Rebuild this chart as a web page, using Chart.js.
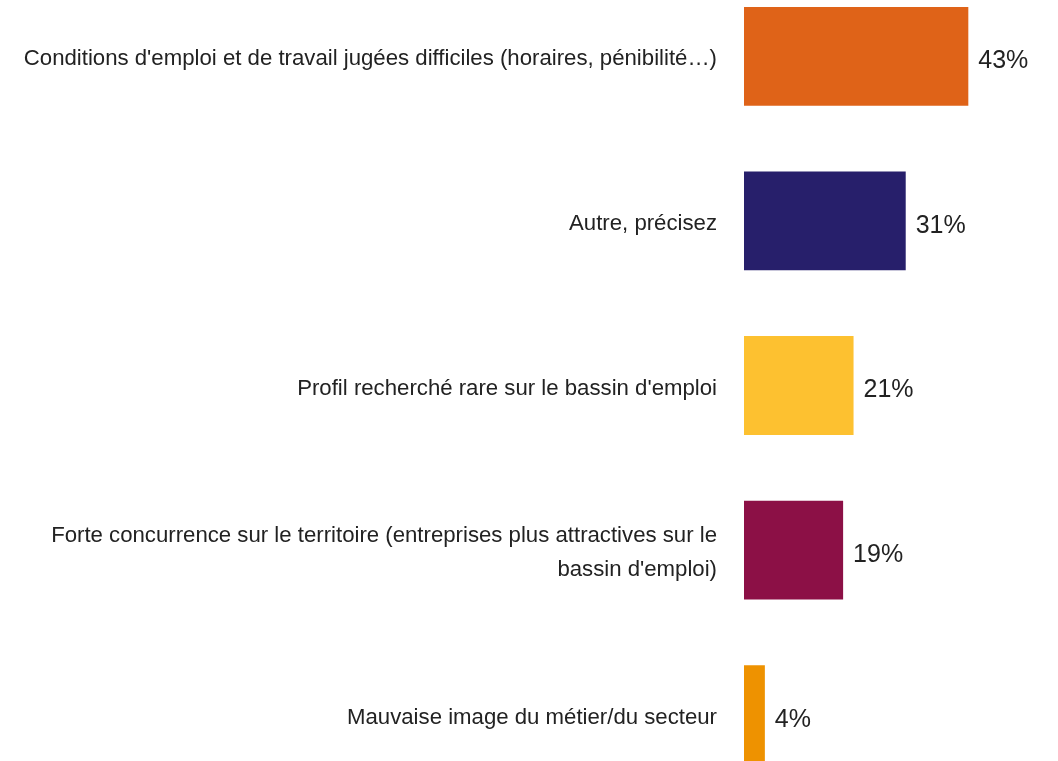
<!DOCTYPE html>
<html>
<head>
<meta charset="utf-8">
<script src="https://cdn.jsdelivr.net/npm/chart.js@4"></script>
<style>
    html, body { margin: 0; padding: 0; background: #fff; overflow: hidden; }
    #grafica { display: block; }
</style>
</head>
<body>
<canvas id="grafica" width="1058" height="761"></canvas>
<script>
const categorias = [
    "Conditions d'emploi et de travail jugées difficiles (horaires, pénibilité…)",
    "Autre, précisez",
    "Profil recherché rare sur le bassin d'emploi",
    ["Forte concurrence sur le territoire (entreprises plus attractives sur le", "bassin d'emploi)"],
    "Mauvaise image du métier/du secteur"
];
const valores = [43, 31, 21, 19, 4];
const colores = ['#DF6318', '#271F6B', '#FDC130', '#8C1046', '#EE9200'];

// la imagen original está recortada: el eje de categorías sobresale del lienzo
const desbordeArriba = 26;
const desbordeAbajo = 36;

const ejeDesbordado = {
    id: 'ejeDesbordado',
    afterLayout(chart) {
        const y = chart.scales.y;
        y.top = chart.chartArea.top - desbordeArriba;
        y.bottom = chart.chartArea.bottom + desbordeAbajo;
        y.height = y.bottom - y.top;
        y.configure();
    }
};

// etiquetas de valor a la derecha de cada barra
const etiquetasValor = {
    id: 'etiquetasValor',
    afterDatasetsDraw(chart) {
        const ctx = chart.ctx;
        const meta = chart.getDatasetMeta(0);
        ctx.save();
        ctx.font = '25px "Liberation Sans", Arial, sans-serif';
        ctx.fillStyle = '#222';
        ctx.textAlign = 'left';
        ctx.textBaseline = 'middle';
        meta.data.forEach(function(bar, i) {
            ctx.fillText(valores[i] + '%', bar.x + 10, bar.y + 5);
        });
        ctx.restore();
    }
};

const ctx = document.getElementById('grafica').getContext('2d');
new Chart(ctx, {
    type: 'bar',
    data: {
        labels: categorias,
        datasets: [{
            data: valores,
            backgroundColor: colores,
            borderWidth: 0,
            barPercentage: 0.6,
            categoryPercentage: 1
        }]
    },
    options: {
        indexAxis: 'y',
        responsive: false,
        animation: false,
        layout: { padding: { left: 0, right: 1, top: 0, bottom: 0 } },
        plugins: {
            legend: { display: false },
            tooltip: { enabled: false }
        },
        scales: {
            x: {
                display: false,
                min: 0,
                max: 60
            },
            y: {
                grid: { display: false, drawTicks: false },
                border: { display: false },
                afterFit: function(scale) {
                    scale.width = 744;
                    scale.paddingTop = 0;
                    scale.paddingBottom = 0;
                },
                ticks: {
                    padding: 27,
                    labelOffset: 3,
                    color: '#222',
                    font: { family: '"Liberation Sans", Arial, sans-serif', size: 22.2, lineHeight: 1.53 }
                }
            }
        }
    },
    plugins: [ejeDesbordado, etiquetasValor]
});
</script>
</body>
</html>
